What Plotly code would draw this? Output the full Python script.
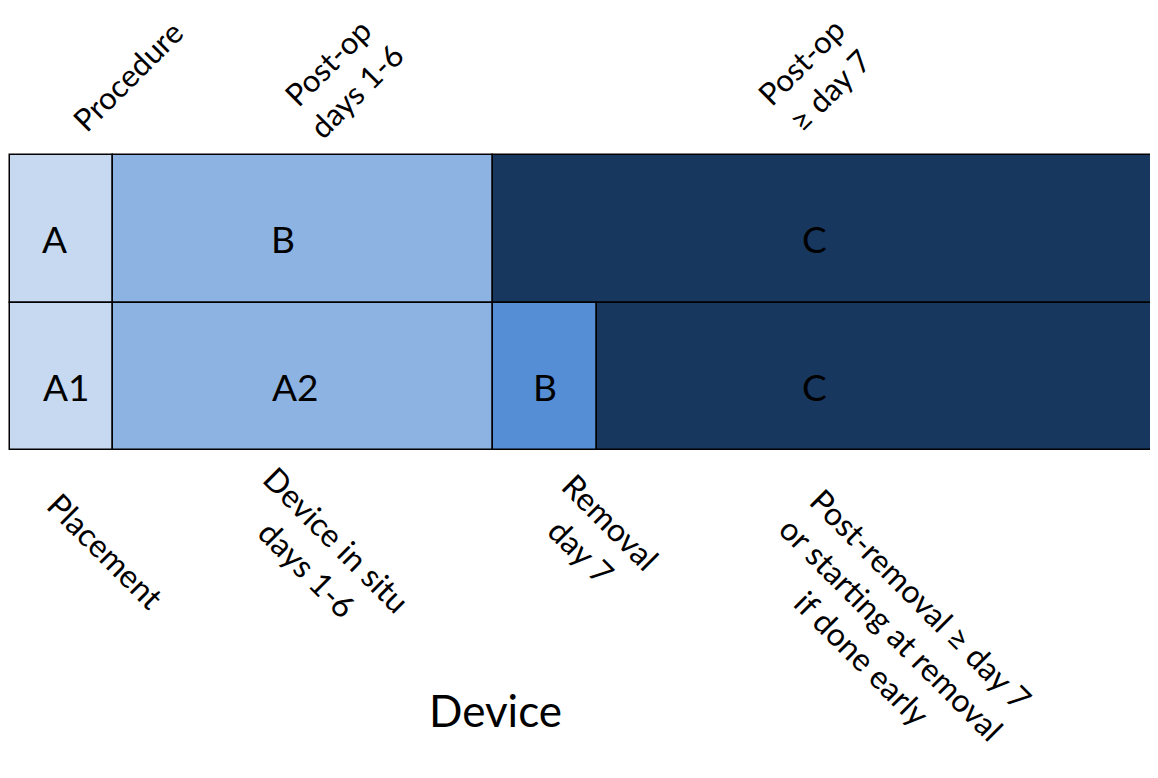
import plotly.graph_objects as go

# Timeline segments (width of each phase, in units of the placement phase)
procedure_labels = ["A", "B", "C"]
procedure_widths = [0.99, 3.67, 6.6]
procedure_colors = ["#C6D9F1", "#8DB3E2", "#17375E"]

device_labels = ["A1", "A2", "B", "C"]
device_widths = [0.99, 3.67, 1.0, 5.6]
device_colors = ["#C6D9F1", "#8DB3E2", "#558ED5", "#17375E"]

# where the letters sit inside the bars (x, same units)
procedure_label_x = [0.43, 2.63, 7.76]
device_label_x = [0.54, 2.75, 5.16, 7.76]

# rotated phase captions
top_captions = ["Procedure", "Post-op<br>days 1-6", "Post-op<br>≥ day 7"]
top_caption_x = [1.13, 3.2, 7.76]
bottom_captions = ["Placement", "Device in situ<br>days 1-6", "Removal<br>day 7",
                   "Post-removal ≥ day 7<br>or starting at removal<br>if done early"]
bottom_caption_x = [0.92, 3.01, 5.65, 8.5]
bottom_caption_y = [-0.331, -0.344, -0.284, -0.59]

FONT = "Lato, 'Open Sans', sans-serif"

fig = go.Figure()

def add_row(y, widths, colors):
    base = 0
    for w, c in zip(widths, colors):
        fig.add_trace(go.Bar(
            x=[w], y=[y], base=[base], orientation="h", width=1,
            marker=dict(color=c, line=dict(color="black", width=1.5)),
            showlegend=False, hoverinfo="skip"))
        base += w

add_row(1, procedure_widths, procedure_colors)
add_row(0, device_widths, device_colors)

# letters inside the bars (sit a little below the middle, as in the original)
for lab, x in zip(procedure_labels, procedure_label_x):
    fig.add_annotation(x=x, y=1, text=lab, showarrow=False, yshift=-10,
                       font=dict(size=37, color="black", family=FONT))
for lab, x in zip(device_labels, device_label_x):
    fig.add_annotation(x=x, y=0, text=lab, showarrow=False, yshift=-10,
                       font=dict(size=37, color="black", family=FONT))

# captions above (rotated up) and below (rotated down)
for t, x in zip(top_captions, top_caption_x):
    fig.add_annotation(x=x, y=1.258, yref="paper", text=t, showarrow=False,
                       textangle=-45, align="center",
                       xanchor="center", yanchor="middle",
                       font=dict(size=31, color="black", family=FONT))
for t, x, y in zip(bottom_captions, bottom_caption_x, bottom_caption_y):
    fig.add_annotation(x=x, y=y, yref="paper", text=t, showarrow=False,
                       textangle=45, align="center",
                       xanchor="center", yanchor="middle",
                       font=dict(size=32, color="black", family=FONT))

fig.add_annotation(x=4.68, y=-0.863, yref="paper", text="Device", showarrow=False,
                   xanchor="center", yanchor="middle",
                   font=dict(size=44, color="black", family=FONT))

fig.update_layout(
    width=1158, height=778,
    margin=dict(l=0, r=0, t=145, b=334),
    plot_bgcolor="white", paper_bgcolor="white",
    barmode="overlay", bargap=0,
    xaxis=dict(range=[-0.02, 11.15], visible=False, fixedrange=True),
    yaxis=dict(range=[-0.515, 1.515], visible=False, fixedrange=True),
)

fig.write_html("out.html")
